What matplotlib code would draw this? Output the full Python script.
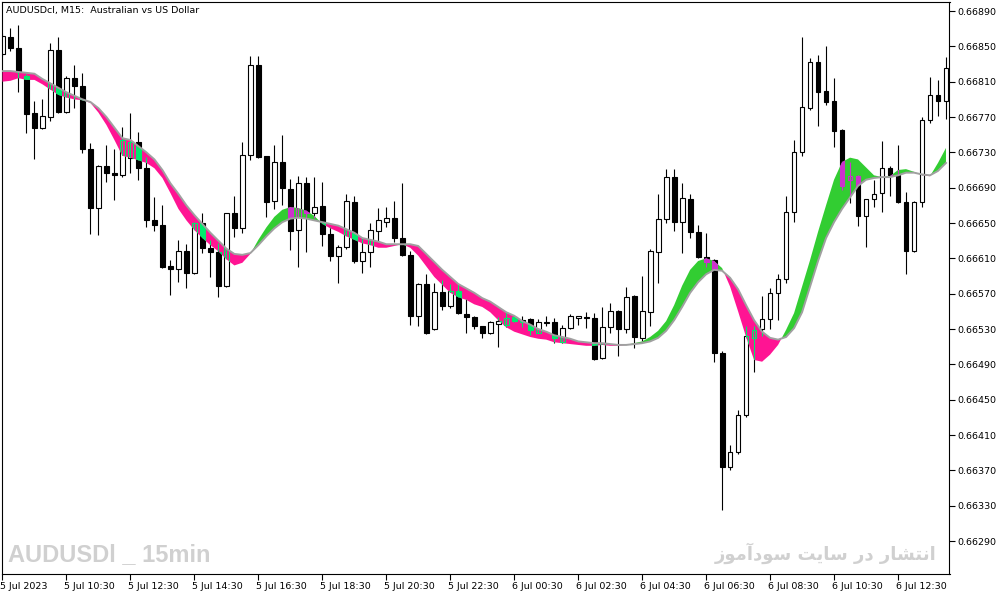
import numpy as np
import matplotlib
matplotlib.use("Agg")
import matplotlib.pyplot as plt
from matplotlib.path import Path
from matplotlib.transforms import ScaledTranslation

# AUDUSD M15 candles, 5 Jul 2023 08:30 -> 6 Jul 2023 14:00
opens = [0.66841, 0.66861, 0.66848, 0.66816, 0.66775, 0.66758, 0.66770, 0.66846, 0.66776, 0.66814,
         0.66805, 0.66734, 0.66667, 0.66715, 0.66707, 0.66704, 0.66724, 0.66742, 0.66712, 0.66653,
         0.66648, 0.66601, 0.66598, 0.66618, 0.66593, 0.66650, 0.66622, 0.66617, 0.66579, 0.66661,
         0.66644, 0.66727, 0.66829, 0.66726, 0.66675, 0.66719, 0.66689, 0.66642, 0.66695, 0.66661,
         0.66669, 0.66638, 0.66613, 0.66623, 0.66674, 0.66607, 0.66617, 0.66641, 0.66651, 0.66656,
         0.66633, 0.66614, 0.66545, 0.66581, 0.66530, 0.66572, 0.66556, 0.66573, 0.66547, 0.66544,
         0.66534, 0.66525, 0.66536, 0.66535, 0.66544, 0.66540, 0.66541, 0.66526, 0.66538, 0.66538,
         0.66515, 0.66531, 0.66542, 0.66544, 0.66542, 0.66497, 0.66532, 0.66550, 0.66530, 0.66567,
         0.66520, 0.66549, 0.66617, 0.66655, 0.66702, 0.66651, 0.66677, 0.66640, 0.66611, 0.66608,
         0.66503, 0.66374, 0.66391, 0.66433, 0.66520, 0.66530, 0.66541, 0.66571, 0.66587, 0.66662,
         0.66730, 0.66780, 0.66832, 0.66800, 0.66788, 0.66755, 0.66699, 0.66703, 0.66658, 0.66677,
         0.66684, 0.66712, 0.66704, 0.66674, 0.66618, 0.66674, 0.66767, 0.66795, 0.66788]
highs = [0.66865, 0.66871, 0.66874, 0.66819, 0.66788, 0.66790, 0.66854, 0.66861, 0.66816, 0.66829,
         0.66820, 0.66741, 0.66716, 0.66738, 0.66734, 0.66759, 0.66775, 0.66753, 0.66725, 0.66679,
         0.66670, 0.66608, 0.66631, 0.66626, 0.66651, 0.66661, 0.66631, 0.66627, 0.66661, 0.66681,
         0.66742, 0.66839, 0.66839, 0.66726, 0.66738, 0.66750, 0.66700, 0.66703, 0.66702, 0.66702,
         0.66696, 0.66645, 0.66625, 0.66683, 0.66681, 0.66633, 0.66650, 0.66667, 0.66668, 0.66675,
         0.66695, 0.66618, 0.66582, 0.66592, 0.66582, 0.66585, 0.66581, 0.66581, 0.66564, 0.66545,
         0.66534, 0.66539, 0.66544, 0.66549, 0.66545, 0.66545, 0.66542, 0.66541, 0.66545, 0.66542,
         0.66535, 0.66547, 0.66545, 0.66549, 0.66548, 0.66555, 0.66560, 0.66551, 0.66578, 0.66569,
         0.66590, 0.66621, 0.66683, 0.66711, 0.66711, 0.66695, 0.66683, 0.66648, 0.66639, 0.66609,
         0.66505, 0.66399, 0.66438, 0.66534, 0.66534, 0.66567, 0.66576, 0.66592, 0.66681, 0.66744,
         0.66861, 0.66837, 0.66840, 0.66850, 0.66814, 0.66756, 0.66719, 0.66704, 0.66677, 0.66699,
         0.66743, 0.66714, 0.66738, 0.66685, 0.66675, 0.66770, 0.66815, 0.66812, 0.66838]
lows = [0.66839, 0.66845, 0.66798, 0.66752, 0.66722, 0.66757, 0.66765, 0.66774, 0.66775, 0.66780,
        0.66729, 0.66638, 0.66636, 0.66696, 0.66676, 0.66702, 0.66707, 0.66699, 0.66645, 0.66641,
        0.66599, 0.66569, 0.66583, 0.66576, 0.66592, 0.66616, 0.66589, 0.66566, 0.66578, 0.66634,
        0.66639, 0.66721, 0.66724, 0.66657, 0.66666, 0.66670, 0.66619, 0.66600, 0.66617, 0.66656,
        0.66624, 0.66607, 0.66582, 0.66621, 0.66605, 0.66593, 0.66600, 0.66629, 0.66645, 0.66629,
        0.66613, 0.66535, 0.66533, 0.66524, 0.66529, 0.66551, 0.66554, 0.66547, 0.66525, 0.66530,
        0.66520, 0.66524, 0.66510, 0.66532, 0.66538, 0.66532, 0.66523, 0.66525, 0.66533, 0.66514,
        0.66514, 0.66530, 0.66535, 0.66531, 0.66495, 0.66496, 0.66525, 0.66499, 0.66525, 0.66508,
        0.66517, 0.66533, 0.66582, 0.66650, 0.66641, 0.66616, 0.66633, 0.66610, 0.66600, 0.66493,
        0.66325, 0.66370, 0.66388, 0.66430, 0.66481, 0.66522, 0.66530, 0.66540, 0.66582, 0.66651,
        0.66726, 0.66778, 0.66760, 0.66784, 0.66736, 0.66687, 0.66673, 0.66647, 0.66623, 0.66668,
        0.66662, 0.66681, 0.66673, 0.66592, 0.66617, 0.66668, 0.66763, 0.66771, 0.66768]
closes = [0.66862, 0.66848, 0.66821, 0.66773, 0.66758, 0.66771, 0.66846, 0.66776, 0.66814, 0.66805,
          0.66734, 0.66667, 0.66715, 0.66707, 0.66704, 0.66744, 0.66742, 0.66712, 0.66653, 0.66648,
          0.66600, 0.66598, 0.66618, 0.66593, 0.66650, 0.66622, 0.66617, 0.66579, 0.66661, 0.66644,
          0.66727, 0.66829, 0.66725, 0.66674, 0.66719, 0.66690, 0.66641, 0.66695, 0.66661, 0.66668,
          0.66638, 0.66613, 0.66623, 0.66675, 0.66607, 0.66617, 0.66642, 0.66653, 0.66656, 0.66633,
          0.66614, 0.66545, 0.66581, 0.66525, 0.66572, 0.66556, 0.66573, 0.66548, 0.66544, 0.66533,
          0.66525, 0.66538, 0.66539, 0.66542, 0.66539, 0.66538, 0.66529, 0.66538, 0.66537, 0.66520,
          0.66531, 0.66545, 0.66545, 0.66542, 0.66496, 0.66532, 0.66550, 0.66530, 0.66566, 0.66521,
          0.66550, 0.66618, 0.66655, 0.66702, 0.66651, 0.66678, 0.66640, 0.66611, 0.66606, 0.66503,
          0.66374, 0.66391, 0.66433, 0.66522, 0.66529, 0.66541, 0.66571, 0.66587, 0.66662, 0.66730,
          0.66781, 0.66832, 0.66798, 0.66787, 0.66754, 0.66692, 0.66703, 0.66658, 0.66677, 0.66683,
          0.66712, 0.66704, 0.66674, 0.66618, 0.66674, 0.66767, 0.66795, 0.66788, 0.66826]

# ribbon: slow line (grey edge) and fast line
slow = [0.66822, 0.66822, 0.66821, 0.66820, 0.66819, 0.66813, 0.66808, 0.66803, 0.66798, 0.66794,
        0.66790, 0.66787, 0.66780, 0.66770, 0.66758, 0.66746, 0.66744, 0.66737, 0.66730, 0.66722,
        0.66710, 0.66695, 0.66683, 0.66670, 0.66659, 0.66649, 0.66639, 0.66630, 0.66621, 0.66615,
        0.66614, 0.66616, 0.66625, 0.66635, 0.66644, 0.66651, 0.66655, 0.66656, 0.66655, 0.66653,
        0.66651, 0.66649, 0.66647, 0.66643, 0.66639, 0.66633, 0.66631, 0.66629, 0.66626, 0.66626,
        0.66626, 0.66626, 0.66624, 0.66615, 0.66606, 0.66597, 0.66589, 0.66581, 0.66576, 0.66571,
        0.66565, 0.66561, 0.66555, 0.66549, 0.66545, 0.66539, 0.66535, 0.66530, 0.66527, 0.66523,
        0.66521, 0.66519, 0.66516, 0.66515, 0.66514, 0.66514, 0.66513, 0.66512, 0.66512, 0.66513,
        0.66514, 0.66516, 0.66520, 0.66528, 0.66540, 0.66555, 0.66571, 0.66583, 0.66592, 0.66597,
        0.66596, 0.66588, 0.66575, 0.66557, 0.66540, 0.66527, 0.66520, 0.66518, 0.66521, 0.66531,
        0.66549, 0.66578, 0.66607, 0.66633, 0.66651, 0.66666, 0.66679, 0.66692, 0.66699, 0.66701,
        0.66702, 0.66702, 0.66704, 0.66707, 0.66707, 0.66705, 0.66704, 0.66709, 0.66718]
fast = [0.66810, 0.66811, 0.66814, 0.66812, 0.66812, 0.66807, 0.66801, 0.66795, 0.66792, 0.66790,
        0.66789, 0.66786, 0.66775, 0.66761, 0.66744, 0.66726, 0.66724, 0.66721, 0.66718, 0.66712,
        0.66701, 0.66684, 0.66666, 0.66653, 0.66642, 0.66633, 0.66625, 0.66618, 0.66609, 0.66602,
        0.66605, 0.66615, 0.66631, 0.66645, 0.66657, 0.66665, 0.66668, 0.66667, 0.66664, 0.66658,
        0.66649, 0.66644, 0.66640, 0.66635, 0.66631, 0.66627, 0.66625, 0.66622, 0.66622, 0.66624,
        0.66626, 0.66622, 0.66613, 0.66601, 0.66589, 0.66580, 0.66571, 0.66566, 0.66563, 0.66558,
        0.66555, 0.66549, 0.66540, 0.66532, 0.66527, 0.66524, 0.66521, 0.66519, 0.66518, 0.66515,
        0.66514, 0.66513, 0.66512, 0.66511, 0.66511, 0.66512, 0.66511, 0.66511, 0.66512, 0.66514,
        0.66516, 0.66521, 0.66528, 0.66539, 0.66557, 0.66579, 0.66597, 0.66607, 0.66610, 0.66607,
        0.66599, 0.66578, 0.66550, 0.66521, 0.66495, 0.66493, 0.66501, 0.66512, 0.66529, 0.66548,
        0.66578, 0.66608, 0.66640, 0.66670, 0.66699, 0.66719, 0.66724, 0.66722, 0.66713, 0.66704,
        0.66702, 0.66703, 0.66710, 0.66711, 0.66708, 0.66704, 0.66703, 0.66718, 0.66735]

time_labels = ["5 Jul 2023", "5 Jul 10:30", "5 Jul 12:30", "5 Jul 14:30", "5 Jul 16:30",
               "5 Jul 18:30", "5 Jul 20:30", "5 Jul 22:30", "6 Jul 00:30", "6 Jul 02:30",
               "6 Jul 04:30", "6 Jul 06:30", "6 Jul 08:30", "6 Jul 10:30", "6 Jul 12:30"]
price_ticks = [0.66290, 0.66330, 0.66370, 0.66410, 0.66450, 0.66490, 0.66530, 0.66570,
               0.66610, 0.66650, 0.66690, 0.66730, 0.66770, 0.66810, 0.66850, 0.66890]

opens = np.array(opens)
highs = np.array(highs)
lows = np.array(lows)
closes = np.array(closes)
slow = np.array(slow)
fast = np.array(fast)
x = np.arange(len(opens))

PINK = "#FF1493"
GREEN = "#32CD32"
PINK_INV = "#00EB6C"   # black candle seen through pink filling
GREEN_INV = "#CD32CD"  # black candle seen through green filling

fig = plt.figure(figsize=(10.03, 5.96), dpi=100)
ax = fig.add_axes([2.5 / 1003, 22 / 596, 947 / 1003, 572 / 596])
ax.set_xlim(0.06, 118.44)
ax.set_ylim(0.662527, 0.669002)


def draw_candles(edge, down_face, up_face, z, clip=None):
    wicks = ax.vlines(x, lows, highs, colors=edge, linewidth=0.8, zorder=z)
    bottoms = np.minimum(opens, closes)
    heights = np.maximum(np.abs(closes - opens), 1e-7)
    faces = [up_face if c >= o else down_face for o, c in zip(opens, closes)]
    bars = ax.bar(x, heights, width=0.6, bottom=bottoms, color=faces,
                  edgecolor=edge, linewidth=0.8, zorder=z)
    if clip is not None:
        wicks.set_clip_path(clip, ax.transData)
        for b in bars:
            b.set_clip_path(clip, ax.transData)


# plain candles
draw_candles("black", "black", "white", 2)

# ribbon
up = ax.fill_between(x, slow, fast, where=fast >= slow, interpolate=True,
                     color=GREEN, linewidth=0, zorder=4)
dn = ax.fill_between(x, slow, fast, where=fast < slow, interpolate=True,
                     color=PINK, linewidth=0, zorder=4)
up_path = Path.make_compound_path(*up.get_paths())
dn_path = Path.make_compound_path(*dn.get_paths())

# candle parts inside the filling come out inverted
draw_candles(PINK_INV, PINK_INV, "none", 5, clip=dn_path)
draw_candles(GREEN_INV, GREEN_INV, "none", 5, clip=up_path)

ax.plot(x, slow, color="#A0A0A0", linewidth=1.4, zorder=6)

# axes look
for s in ax.spines.values():
    s.set_linewidth(0.8)
ax.yaxis.tick_right()
ax.set_yticks(price_ticks)
ax.set_yticklabels(["%.5f" % p for p in price_ticks])
ax.set_xticks(np.arange(0, 8 * len(time_labels), 8))
ax.set_xticklabels(time_labels)
ax.tick_params(axis="both", direction="out", length=4, width=0.8, labelsize=6.8,
               colors="black")
ax.tick_params(axis="y", pad=2)
ax.tick_params(axis="x", pad=1.5)
shift = ScaledTranslation(-2.5 / 100, 0, fig.dpi_scale_trans)
for lab in ax.get_xticklabels():
    lab.set_horizontalalignment("left")
    lab.set_transform(lab.get_transform() + shift)

fig.text(6 / 1003, 1 - 10 / 596, "AUDUSDcl, M15:  Australian vs US Dollar",
         fontsize=6.8, va="center", ha="left")

# watermarks
fig.text(8 / 1003, 1 - 555 / 596, "AUDUSDl _ 15min", fontsize=17, fontweight="bold",
         family=["Liberation Sans", "DejaVu Sans"], color="#D0D0D0",
         va="center", ha="left")
fa_text = ("\uFEAF\uFEEE\uFEE3\uFE81\uFEA9\uFEEE\uFEB3 \uFE96\uFEF3\uFE8E\uFEB3 "
           "\uFEAD\uFEA9 \uFEAD\uFE8E\uFEB8\uFE98\uFEE7\uFE8D")
fig.text(937 / 1003, 1 - 553 / 596, fa_text, fontsize=13, fontweight="bold",
         family=["DejaVu Sans"], color="#D0D0D0", va="center", ha="right")

fig.savefig("out.png", dpi=100)
